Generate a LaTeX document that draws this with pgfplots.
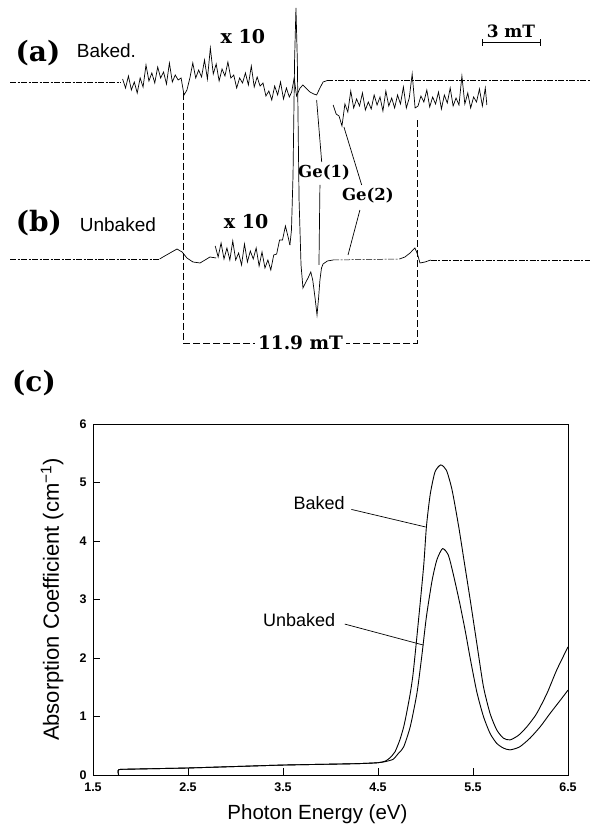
\documentclass[border=0pt]{standalone}
\usepackage{fontspec}
\setsansfont{Liberation Sans}
\newfontfamily\schb{DejaVu Serif}
\usepackage{pgfplots}
\pgfplotsset{compat=1.18}

\newcommand\bl[2]{{\schb\bfseries\fontsize{#1}{#1}\selectfont #2}}
\newcommand\sst[2]{{\sffamily\fontsize{#1}{#1}\selectfont #2}}

\tikzset{
  spec/.style={black, line width=0.7pt},
  base/.style={black, line width=0.5pt, dash pattern=on 6pt off 1.5pt on 2pt off 1.5pt},
  box/.style={black, line width=0.9pt, dash pattern=on 7pt off 3pt},
  lead/.style={black, line width=0.7pt}
}

\begin{document}
\begin{tikzpicture}
\path[use as bounding box] (0,0) rectangle (593pt,825pt);

% ---------- EPR spectra (a) and (b): field in mT, signal in arbitrary units
\begin{axis}[
    at={(0pt,485pt)}, anchor=south west,
    width=593pt, height=340pt, scale only axis,
    xmin=-9.487, xmax=20.923, ymin=0, ymax=340,
    hide axis, clip=false]

% (a) baked, x1 trace
\addplot[base] coordinates {(-8.97,258) (-3.3,258)};
\addplot[spec] coordinates {(5.47,248) (5.60,262) (5.72,244) (5.90,252) (6.05,255) (6.25,251)
  (6.41,248) (6.60,246) (6.75,245) (6.92,252) (7.08,258) (7.30,259.5)};
\addplot[base] coordinates {(7.30,259.5) (20.77,259.5)};
% (a) x10, left part
\addplot[spec] coordinates {
  (-3.20,261) (-3.05,252) (-2.90,264) (-2.75,250) (-2.60,258) (-2.45,247) (-2.30,262) (-2.15,253)
  (-2.00,275) (-1.85,259) (-1.70,267) (-1.55,257) (-1.40,273) (-1.25,262) (-1.10,268) (-0.95,256)
  (-0.80,277) (-0.65,258) (-0.50,265) (-0.35,260) (-0.20,262) (-0.05,245) (0.10,250) (0.25,262)
  (0.40,277) (0.55,262) (0.70,270) (0.85,263) (1.00,280) (1.15,261) (1.30,292) (1.45,266)
  (1.60,276) (1.75,259) (1.90,271) (2.05,264) (2.20,278) (2.35,262) (2.50,265) (2.65,252)
  (2.80,262) (2.95,257) (3.10,267) (3.25,255) (3.40,274) (3.55,253) (3.70,263) (3.85,254)
  (4.00,257) (4.15,244) (4.30,249) (4.45,240) (4.60,254) (4.75,245) (4.90,258) (5.05,241)
  (5.20,252) (5.35,243) (5.47,248)};
% (a) x10, right part
\addplot[spec] coordinates {
  (7.60,235) (7.75,226) (7.90,224) (8.05,214) (8.20,236) (8.35,228) (8.50,249) (8.65,232)
  (8.80,241) (8.95,234) (9.10,247) (9.25,230) (9.40,238) (9.55,231) (9.70,245) (9.85,235)
  (10.00,243) (10.15,229) (10.30,249) (10.45,234) (10.60,242) (10.75,232) (10.90,245) (11.05,236)
  (11.20,253) (11.35,232) (11.50,242) (11.65,266) (11.80,232) (11.95,234) (12.10,244) (12.25,238)
  (12.40,250) (12.55,233) (12.70,243) (12.85,236) (13.00,248) (13.15,231) (13.30,245) (13.45,237)
  (13.60,252) (13.75,234) (13.90,242) (14.05,235) (14.20,264) (14.35,236) (14.50,247) (14.65,232)
  (14.80,243) (14.95,238) (15.10,251) (15.25,234) (15.40,252) (15.48,235)};

% (b) unbaked, x1 trace
\addplot[base] coordinates {(-8.97,81) (-1.30,81)};
\addplot[spec] coordinates {(-1.30,81) (-1.13,83) (-0.77,87) (-0.41,91) (-0.15,88) (0.10,82)
  (0.41,78) (0.77,77) (1.03,80) (1.28,83) (1.60,82)};
\addplot[spec] coordinates {(5.38,95) (5.46,110) (5.54,165) (5.62,280) (5.69,332) (5.76,280)
  (5.85,140) (5.95,75) (6.05,52) (6.20,58) (6.31,62) (6.45,68) (6.55,60) (6.67,42) (6.77,25)
  (6.85,42) (6.92,60) (7.00,72) (7.08,76) (7.30,79) (7.60,80)};
\addplot[base] coordinates {(7.60,80) (11.0,81)};
\addplot[spec] coordinates {(11.0,81) (11.28,83) (11.54,87) (11.79,92) (11.92,86) (12.05,77)
  (12.31,78) (12.60,80)};
\addplot[base] coordinates {(12.60,80) (20.77,80)};
% (b) x10
\addplot[spec] coordinates {
  (1.55,94) (1.70,83) (1.85,97) (2.00,81) (2.15,92) (2.30,80) (2.45,99) (2.60,80)
  (2.75,87) (2.90,75) (3.05,96) (3.20,78) (3.35,89) (3.50,81) (3.65,92) (3.80,74)
  (3.95,88) (4.10,72) (4.25,80) (4.40,70) (4.55,85) (4.70,86) (4.85,100) (5.00,100)
  (5.15,114) (5.30,102) (5.38,95)};

% 11.9 mT bracket
\draw[box] (axis cs:-0.08,247) -- (axis cs:-0.08,-3) -- (axis cs:11.92,-3) -- (axis cs:11.92,220);
\node[fill=white, inner sep=3pt] at (axis cs:5.92,-3) {\bl{18.5}{11.9 mT}};

% 3 mT scale bar
\draw[|-|, line width=0.6pt] (axis cs:15.22,297.3) -- (axis cs:18.21,297.3);
\node at (axis cs:16.72,309) {\bl{17}{3\,\,mT}};

% labels
\node at (axis cs:-7.54,287) {\bl{28}{(a)}};
\node at (axis cs:-4.03,289.5) {\sst{19}{Baked.}};
\node at (axis cs:2.97,303) {\bl{19}{x 10}};
\node at (axis cs:-7.49,117) {\bl{28}{(b)}};
\node at (axis cs:-3.44,115) {\sst{19}{Unbaked}};
\node at (axis cs:3.13,118) {\bl{19}{x 10}};
\node at (axis cs:7.13,167) {\bl{16.5}{Ge(1)}};
\node at (axis cs:9.38,144) {\bl{16.5}{Ge(2)}};
\draw[lead] (axis cs:6.75,240) -- (axis cs:7.01,178);
\draw[lead] (axis cs:6.92,155) -- (axis cs:6.87,75);
\draw[lead] (axis cs:8.15,213) -- (axis cs:9.06,155);
\draw[lead] (axis cs:8.97,130) -- (axis cs:8.36,85);
\end{axis}

\node at (34pt,442pt) {\bl{28}{(c)}};

% ---------- (c) optical absorption
\begin{axis}[
    at={(93pt,50pt)}, anchor=south west,
    width=475pt, height=351pt, scale only axis,
    xmin=1.5, xmax=6.5, ymin=0, ymax=6,
    xtick={1.5,2.5,3.5,4.5,5.5,6.5},
    xticklabels={1.5,2.5,3.5,4.5,5.5,6.5},
    ytick={0,1,2,3,4,5,6},
    tick align=inside, xtick pos=bottom, ytick pos=left,
    major tick length=7pt,
    axis line style={line width=0.9pt},
    tick style={line width=0.8pt, black},
    tick label style={font=\sffamily\bfseries\fontsize{12.5}{13}\selectfont},
    xticklabel style={yshift=-4pt},
    yticklabel style={xshift=-3pt},
    /pgf/number format/assume math mode=true,
    xlabel={Photon Energy (eV)},
    ylabel={Absorption Coefficient (cm\textsuperscript{−1})},
    xlabel style={font=\sffamily\fontsize{20.5}{22}\selectfont,
      at={(axis description cs:0.4726,-0.111)}, anchor=center},
    ylabel style={font=\sffamily\fontsize{22}{24}\selectfont,
      at={(axis description cs:-0.0863,0.5)}, anchor=center},
    clip=false]

\addplot[black, line width=0.9pt, smooth, tension=0.4] coordinates {
  (1.77,0) (1.77,0.09) (1.9,0.10) (2.2,0.11) (2.5,0.12) (3.0,0.145) (3.5,0.17) (4.0,0.185)
  (4.3,0.195) (4.5,0.21) (4.58,0.24) (4.63,0.30) (4.68,0.40) (4.73,0.60) (4.77,0.82) (4.80,1.05)
  (4.84,1.40) (4.87,1.74) (4.92,2.54) (4.98,3.56) (5.01,4.25) (5.05,4.80) (5.10,5.18) (5.16,5.30)
  (5.22,5.21) (5.28,4.87) (5.35,4.24) (5.41,3.62) (5.47,3.00) (5.54,2.25) (5.61,1.51) (5.68,1.05)
  (5.75,0.77) (5.82,0.63) (5.89,0.60) (5.98,0.68) (6.07,0.83) (6.17,1.05) (6.28,1.40) (6.38,1.79)
  (6.50,2.19)};
\addplot[black, line width=0.9pt, smooth, tension=0.4] coordinates {
  (1.77,0) (1.77,0.09) (1.9,0.10) (2.2,0.11) (2.5,0.12) (3.0,0.145) (3.5,0.17) (4.0,0.185)
  (4.3,0.195) (4.5,0.21) (4.58,0.23) (4.66,0.27) (4.72,0.38) (4.77,0.48) (4.84,0.83) (4.91,1.40)
  (4.96,2.02) (5.01,2.71) (5.07,3.33) (5.12,3.68) (5.18,3.87) (5.24,3.76) (5.29,3.45) (5.36,2.94)
  (5.42,2.45) (5.47,2.00) (5.54,1.42) (5.61,1.00) (5.68,0.71) (5.75,0.54) (5.82,0.46) (5.89,0.43)
  (5.99,0.48) (6.10,0.63) (6.21,0.83) (6.31,1.05) (6.42,1.28) (6.50,1.45)};

\node at (axis cs:3.88,4.65) {\sst{18}{Baked}};
\draw[lead] (axis cs:4.22,4.54) -- (axis cs:5.0,4.24);
\node at (axis cs:3.67,2.65) {\sst{18}{Unbaked}};
\draw[lead] (axis cs:4.15,2.58) -- (axis cs:4.98,2.22);
\end{axis}
\end{tikzpicture}
\end{document}
